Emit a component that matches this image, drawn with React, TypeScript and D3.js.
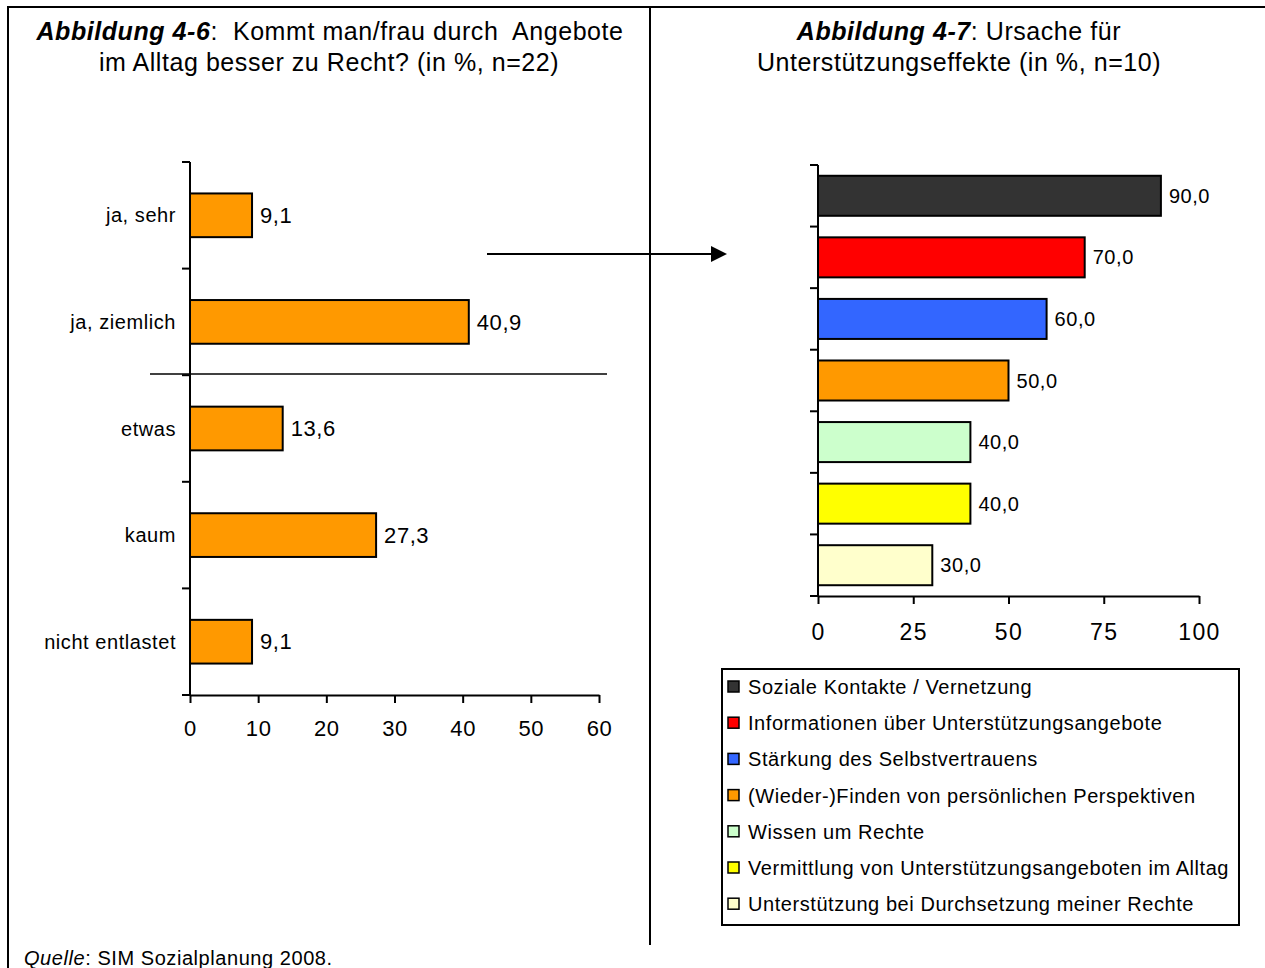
import React, { useEffect, useRef } from 'react';
import * as d3 from 'd3';

// Abbildung 4-6
const leftCategories = ['ja, sehr', 'ja, ziemlich', 'etwas', 'kaum', 'nicht entlastet'];
const leftValues = [9.1, 40.9, 13.6, 27.3, 9.1];
const leftTicks = [0, 10, 20, 30, 40, 50, 60];

// Abbildung 4-7
const rightCategories = [
  'Soziale Kontakte / Vernetzung',
  'Informationen über Unterstützungsangebote',
  'Stärkung des Selbstvertrauens',
  '(Wieder-)Finden von persönlichen Perspektiven',
  'Wissen um Rechte',
  'Vermittlung von Unterstützungsangeboten im Alltag',
  'Unterstützung bei Durchsetzung meiner Rechte',
];
const rightValues = [90, 70, 60, 50, 40, 40, 30];
const rightColors = ['#333333', '#FF0000', '#3366FF', '#FF9900', '#CCFFCC', '#FFFF00', '#FFFFCC'];
const rightTicks = [0, 25, 50, 75, 100];

const FONT = 'Liberation Sans, Arial, sans-serif';
const fmt = (v: number) => v.toFixed(1).replace('.', ',');

const App: React.FC = () => {
  const leftXAxis = useRef<SVGGElement>(null);
  const rightXAxis = useRef<SVGGElement>(null);

  // left chart scales
  const lx = d3.scaleLinear().domain([0, 60]).range([190, 599]);
  const ly = d3.scaleBand<string>().domain(leftCategories).range([162, 695]).paddingInner(0.59).paddingOuter(0.295);
  const lyOuter = d3.scaleBand<string>().domain(leftCategories).range([162, 695]);

  // right chart scales
  const rx = d3.scaleLinear().domain([0, 100]).range([818, 1199]);
  const ry = d3.scaleBand<string>().domain(rightCategories).range([165, 596]).paddingInner(0.35).paddingOuter(0.175);
  const ryOuter = d3.scaleBand<string>().domain(rightCategories).range([165, 596]);

  useEffect(() => {
    if (leftXAxis.current) {
      const g = d3.select(leftXAxis.current);
      g.selectAll('*').remove();
      g.call(d3.axisBottom(lx).tickValues(leftTicks).tickSize(8).tickSizeOuter(0).tickPadding(17).tickFormat(d3.format('d')));
      g.selectAll('path, line').attr('stroke', '#000').attr('stroke-width', 2);
      g.selectAll('text').attr('font-size', 22).attr('font-family', FONT).attr('fill', '#000');
    }
    if (rightXAxis.current) {
      const g = d3.select(rightXAxis.current);
      g.selectAll('*').remove();
      g.call(d3.axisBottom(rx).tickValues(rightTicks).tickSize(8).tickSizeOuter(0).tickPadding(20).tickFormat(d3.format('d')));
      g.selectAll('path, line').attr('stroke', '#000').attr('stroke-width', 2);
      g.selectAll('text').attr('font-size', 23).attr('font-family', FONT).attr('fill', '#000').attr('letter-spacing', '0.06em');
    }
  }, []);

  const leftBounds = [...leftCategories.map(c => lyOuter(c) as number), 695];
  const rightBounds = [...rightCategories.map(c => ryOuter(c) as number), 596];

  return (
    <svg width={1265} height={968} style={{ position: 'absolute', left: 0, top: 0, background: '#fff' }}
      fontFamily={FONT} letterSpacing="0.035em">
      {/* frame */}
      <line x1={7} x2={1265} y1={7} y2={7} stroke="#000" strokeWidth={2} />
      <line x1={8} x2={8} y1={6} y2={968} stroke="#000" strokeWidth={2} />
      <line x1={650} x2={650} y1={6} y2={945} stroke="#000" strokeWidth={2} />

      {/* titles */}
      <text x={330} y={40} textAnchor="middle" fontSize={25} style={{ whiteSpace: 'pre' }}>
        <tspan fontWeight="bold" fontStyle="italic">Abbildung 4-6</tspan>
        <tspan>:  Kommt man/frau durch  Angebote</tspan>
      </text>
      <text x={329} y={71} textAnchor="middle" fontSize={25}>im Alltag besser zu Recht? (in %, n=22)</text>
      <text x={959} y={40} textAnchor="middle" fontSize={25}>
        <tspan fontWeight="bold" fontStyle="italic">Abbildung 4-7</tspan>
        <tspan>: Ursache für</tspan>
      </text>
      <text x={959} y={71} textAnchor="middle" fontSize={25}>Unterstützungseffekte (in %, n=10)</text>

      {/* left chart */}
      <g>
        {leftCategories.map((c, i) => (
          <g key={c}>
            <rect x={lx(0)} y={ly(c)} width={lx(leftValues[i]) - lx(0)} height={ly.bandwidth()}
              fill="#FF9900" stroke="#000" strokeWidth={2} />
            <text x={lx(leftValues[i]) + 8} y={(ly(c) as number) + ly.bandwidth() / 2} dy="0.35em" fontSize={22}>
              {fmt(leftValues[i])}
            </text>
            <text x={176} y={(ly(c) as number) + ly.bandwidth() / 2} dy="0.35em" fontSize={20} textAnchor="end">{c}</text>
          </g>
        ))}
        <line x1={190} x2={190} y1={162} y2={695} stroke="#000" strokeWidth={2} />
        {leftBounds.map((b, i) => (
          <line key={i} x1={182} x2={190} y1={b} y2={b} stroke="#000" strokeWidth={2} />
        ))}
        <g ref={leftXAxis} transform="translate(0,695)" />
        {/* separator and arrow */}
        <line x1={150} x2={607} y1={374} y2={374} stroke="#000" strokeWidth={1.5} />
        <line x1={487} x2={714} y1={254} y2={254} stroke="#000" strokeWidth={2} />
        <path d="M711,246 L727,254 L711,262 Z" fill="#000" />
      </g>

      {/* right chart */}
      <g>
        {rightCategories.map((c, i) => (
          <g key={c}>
            <rect x={rx(0)} y={ry(c)} width={rx(rightValues[i]) - rx(0)} height={ry.bandwidth()}
              fill={rightColors[i]} stroke="#000" strokeWidth={2} />
            <text x={rx(rightValues[i]) + 8} y={(ry(c) as number) + ry.bandwidth() / 2} dy="0.35em" fontSize={20}>
              {fmt(rightValues[i])}
            </text>
          </g>
        ))}
        <line x1={818} x2={818} y1={165} y2={596} stroke="#000" strokeWidth={2} />
        {rightBounds.map((b, i) => (
          <line key={i} x1={810} x2={818} y1={b} y2={b} stroke="#000" strokeWidth={2} />
        ))}
        <g ref={rightXAxis} transform="translate(0,596)" />
      </g>

      {/* legend */}
      <g>
        <rect x={722} y={669} width={517} height={256} fill="#fff" stroke="#000" strokeWidth={2} />
        {rightCategories.map((c, i) => (
          <g key={c} transform={`translate(728,${687 + i * 36.2})`}>
            <rect x={0} y={-6} width={11} height={11} fill={rightColors[i]} stroke="#000" strokeWidth={1.5} />
            <text x={20} y={0} dy="0.35em" fontSize={20}>{c}</text>
          </g>
        ))}
      </g>

      {/* source */}
      <text x={24} y={965} fontSize={20}>
        <tspan fontStyle="italic">Quelle</tspan>
        <tspan>: SIM Sozialplanung 2008.</tspan>
      </text>
    </svg>
  );
};

export default App;
